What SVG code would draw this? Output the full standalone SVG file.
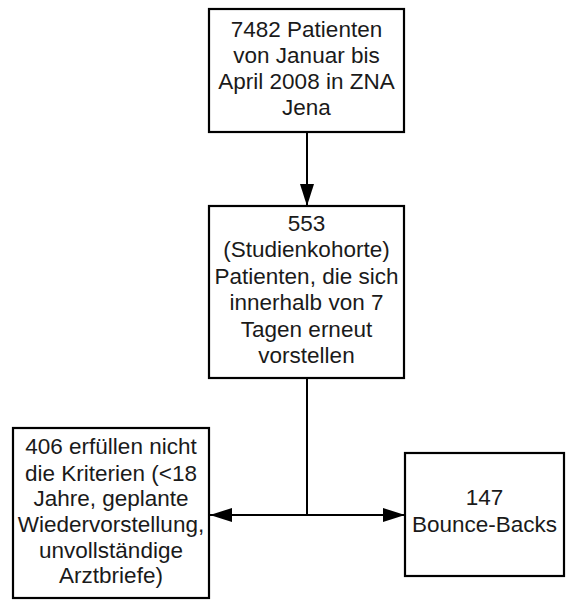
<svg xmlns="http://www.w3.org/2000/svg" width="566" height="601" viewBox="0 0 566 601">
<defs>
<style>
.box{fill:#fff;stroke:#000;stroke-width:2.2}
.t{font-family:"Liberation Sans",Arial,sans-serif;font-size:22.5px;fill:#1a1a1a;text-anchor:middle}
.c{fill:none;stroke:#000;stroke-width:2}
</style>
<marker id="ah" markerWidth="22" markerHeight="14" refX="22" refY="7" orient="auto" markerUnits="userSpaceOnUse">
<path d="M0,0 L22,7 L0,14 Z" fill="#000"/>
</marker>
</defs>
<rect width="566" height="601" fill="#fff"/>
<g id="connectors">
<line class="c" x1="307" y1="133" x2="307" y2="206" marker-end="url(#ah)"/>
<line class="c" x1="307" y1="378" x2="307" y2="515"/>
<line class="c" x1="307" y1="515" x2="210" y2="515" marker-end="url(#ah)"/>
<line class="c" x1="307" y1="515" x2="405" y2="515" marker-end="url(#ah)"/>
</g>
<g id="n1">
<rect class="box" x="209" y="9" width="195" height="123"/>
<text class="t" x="306.5" y="37">7482 Patienten</text>
<text class="t" x="306.5" y="63">von Januar bis</text>
<text class="t" x="306.5" y="89">April 2008 in ZNA</text>
<text class="t" x="306.5" y="115">Jena</text>
</g>
<g id="n2">
<rect class="box" x="209" y="206" width="195" height="172"/>
<text class="t" x="306.5" y="231">553</text>
<text class="t" x="306.5" y="257">(Studienkohorte)</text>
<text class="t" x="306.5" y="284">Patienten, die sich</text>
<text class="t" x="306.5" y="310">innerhalb von 7</text>
<text class="t" x="306.5" y="337">Tagen erneut</text>
<text class="t" x="306.5" y="363">vorstellen</text>
</g>
<g id="n3">
<rect class="box" x="13" y="428" width="196" height="170"/>
<text class="t" x="111" y="454">406 erfüllen nicht</text>
<text class="t" x="111" y="481">die Kriterien (&lt;18</text>
<text class="t" x="111" y="506">Jahre, geplante</text>
<text class="t" x="111" y="532">Wiedervorstellung,</text>
<text class="t" x="111" y="558">unvollständige</text>
<text class="t" x="111" y="583">Arztbriefe)</text>
</g>
<g id="n4">
<rect class="box" x="405" y="453" width="159" height="123"/>
<text class="t" x="484.5" y="505">147</text>
<text class="t" x="484.5" y="532">Bounce-Backs</text>
</g>
</svg>
